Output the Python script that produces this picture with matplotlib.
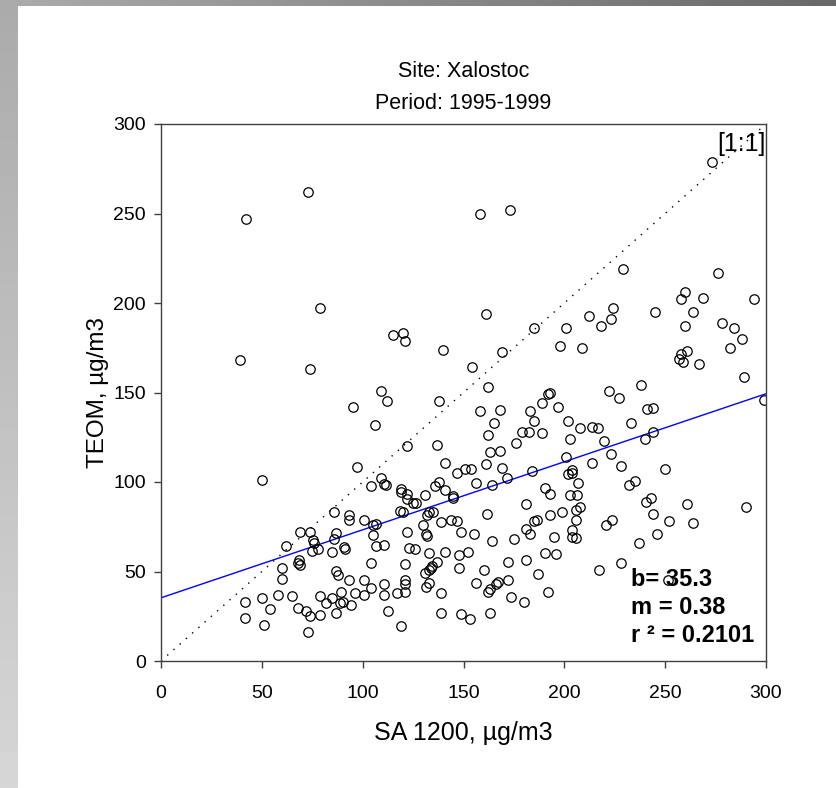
import numpy as np
import matplotlib
matplotlib.use("Agg")
import matplotlib.pyplot as plt

plt.rcParams['font.family'] = ['Liberation Sans', 'DejaVu Sans']

# SA 1200 (x) vs TEOM (y), ug/m3
sa1200 = [
    73, 42, 79, 115, 120, 121, 140, 39, 74,
    273, 158, 173, 229, 276, 260, 258, 269, 294, 245, 264, 161, 224, 212, 223, 218,
    201, 185, 278, 284, 288, 282, 260, 198, 209, 169, 261, 258, 257, 259, 267, 154,
    289, 162, 238, 222, 227, 192, 193, 299, 138,
    109, 112, 95, 106, 122, 137, 141, 97, 147, 150.5, 153.5,
    189, 158, 168, 183, 197, 241, 244, 185, 165, 202, 233, 213.5, 216.5, 208, 162,
    179, 182.5, 189, 244, 240, 219.5, 203, 176, 168, 163, 223, 201, 161, 213.5, 228,
    250, 169, 204, 184,
    50, 109, 104, 110.5, 111.5, 119, 119, 122, 125, 126.5, 122, 131, 138, 136, 141,
    145, 145, 86, 93, 93, 100.5, 105, 106.5, 118.5, 120, 133, 135, 132, 130, 139,
    144, 147, 149, 122, 131.5, 132, 105, 87, 69, 74, 75.5, 76, 86, 62, 78, 75, 85,
    90.5, 91, 106.5, 110.5, 123, 126, 133, 141, 148, 152, 104, 121, 68.5, 68, 69,
    60, 60, 87, 88, 93, 100.5, 110.5, 104, 121, 121, 121, 131, 133, 134.5, 137, 134,
    131.5, 133, 148, 139, 117, 58, 65, 50, 41.5, 79, 82, 85, 89.5, 89, 90, 94, 96,
    100.5, 110.5, 68, 72, 74, 79, 54, 41.5, 51, 87, 112.5, 119, 73, 139, 149, 153,
    171.5, 164, 156, 202, 204, 207, 203, 206.5, 190.5, 193, 232, 235, 240.5, 243,
    261, 290, 244, 252, 264, 181, 161.5, 193, 199, 206, 208, 206, 185, 186.5, 181,
    183, 204, 204, 206, 195, 220.5, 223.5, 237, 246, 175, 164, 155, 190.5, 196, 172,
    181, 160, 187, 172, 167, 166, 163, 162, 156, 173.5, 180, 192, 163, 217, 228, 251.5,
]
teom = [
    262, 247, 197, 182, 183, 179, 174, 168, 163,
    279, 250, 252, 219, 217, 206, 202, 203, 202, 195, 195, 194, 197, 193, 191, 187,
    186, 186, 189, 186, 180, 175, 187, 176, 175, 172.5, 173, 171.5, 168.5, 167, 166, 164,
    158.5, 153, 154, 151, 147, 149, 149.5, 146, 145,
    151, 145, 142, 132, 120, 120.5, 110.5, 108.5, 105, 107, 107.5,
    144, 139.5, 140.5, 139.5, 142, 141, 141.5, 134, 133, 134, 133, 131, 130, 130, 126,
    128, 128, 127.5, 128, 124, 123, 124, 122, 117.5, 116.5, 115.5, 114, 110, 110.5, 109,
    107.5, 108, 106.5, 106,
    101, 102, 98, 99, 98.5, 96, 94.5, 93.5, 88.5, 88, 90.5, 93, 100, 98, 95.5,
    92, 91, 83.5, 81.5, 79, 79, 76, 76.5, 84, 83, 83.5, 83.5, 81.5, 76, 77.5,
    79, 78, 72, 72, 71, 70, 70.5, 71.5, 72, 72, 67.5, 66, 68, 64.5, 62.5, 61.5, 61,
    63.5, 62.5, 64, 65, 63, 62.5, 60.5, 61, 59, 61, 54.5, 54, 56.5, 55, 53.5,
    52, 46, 50.5, 48, 45, 45, 43, 41, 45, 43, 38.5, 49, 51, 53, 55.5, 52,
    41.5, 43.5, 52, 38, 38, 37, 36.5, 35, 33, 36.5, 32.5, 35, 38.5, 32.5, 33, 31.5, 38,
    37, 37, 29.5, 28, 25, 25.5, 29, 24, 20, 27, 28, 19.5, 16, 27, 26.5, 23.5,
    102, 98.5, 99.5, 104.5, 105, 99.5, 93, 93, 96.5, 93.5, 98.5, 100.5, 89, 91,
    87.5, 86, 82, 78, 77, 87.5, 82, 81.5, 83.5, 84.5, 86, 79, 78, 79, 74,
    71, 73, 69, 68.5, 69, 76, 78.5, 66, 71, 68, 67, 71, 60.5, 60, 55.5,
    56.5, 51, 48.5, 45.5, 44, 43, 40.5, 38.5, 43.5, 36, 33, 38.5, 27, 51, 55, 45.5,
]

intercept = 35.3
slope = 0.38
r2 = 0.2101
ticks = [0, 50, 100, 150, 200, 250, 300]

fig = plt.figure(figsize=(8.36, 7.88), dpi=100)

# grey frame strips at top and left
top = fig.add_axes([0, 1 - 6 / 788, 1, 6 / 788])
top.imshow(np.linspace(0.67, 0.41, 256).reshape(1, -1), cmap='gray', vmin=0, vmax=1,
           aspect='auto', extent=[0, 1, 0, 1])
top.axis('off')
left = fig.add_axes([0, 0, 18 / 836, 1 - 6 / 788])
left.imshow(np.linspace(0.67, 0.84, 256).reshape(-1, 1), cmap='gray', vmin=0, vmax=1,
            aspect='auto', extent=[0, 1, 0, 1])
left.axis('off')

ax = fig.add_axes([161 / 836, 127 / 788, 605 / 836, 537 / 788])

xs = np.array([0, 300])
ax.plot(xs, xs, color='black', lw=1, linestyle=(0, (1, 5)))
ax.plot(xs, intercept + slope * xs, color='#0000ff', lw=1)
ax.plot(sa1200, teom, linestyle='none', marker='o', markersize=6.8,
        mfc='none', mec='black', mew=0.9)

ax.set_xlim(0, 300)
ax.set_ylim(0, 300)
ax.set_xticks(ticks)
ax.set_yticks(ticks)
ax.tick_params(direction='out', length=5, width=1, labelsize=14, color='#404040')
ax.tick_params(axis='x', pad=12)
ax.tick_params(axis='y', pad=6)
for s in ax.spines.values():
    s.set_color('#404040')
    s.set_linewidth(1)

ax.set_xlabel('SA 1200, µg/m3', fontsize=18, labelpad=14)
ax.set_ylabel('TEOM, µg/m3', fontsize=17.5, labelpad=3)
ax.set_title('Site: Xalostoc\nPeriod: 1995-1999', fontsize=15.5, pad=11, linespacing=1.68)

ax.text(0.999, 0.985, '[1:1]', transform=ax.transAxes, ha='right', va='top', fontsize=18)
ax.text(0.777, 0.174, f'b= {intercept}\nm = {slope}\nr ² = {r2}',
        transform=ax.transAxes, ha='left', va='top', fontsize=17, fontweight='bold',
        linespacing=1.3)

fig.savefig('out.png', dpi=100)
